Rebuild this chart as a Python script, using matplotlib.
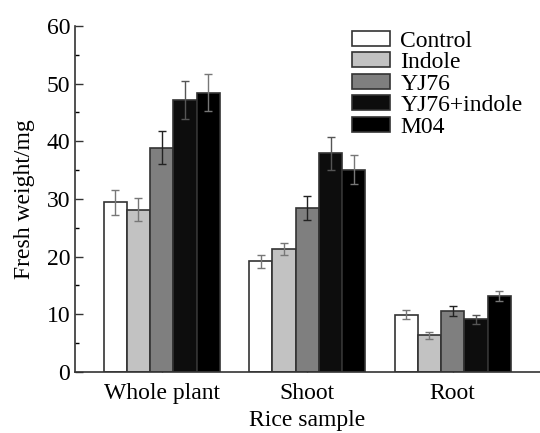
import matplotlib
matplotlib.use("Agg")
import matplotlib.pyplot as plt
import numpy as np
from matplotlib.ticker import MultipleLocator

plt.rcParams['font.family'] = ['Liberation Serif', 'DejaVu Serif']

categories = ["Whole plant", "Shoot", "Root"]
series = ["Control", "Indole", "YJ76", "YJ76+indole", "M04"]
values = {
    "Control":     [29.4, 19.2, 9.9],
    "Indole":      [28.1, 21.3, 6.4],
    "YJ76":        [38.9, 28.4, 10.6],
    "YJ76+indole": [47.1, 37.9, 9.1],
    "M04":         [48.4, 35.1, 13.2],
}
errors = {
    "Control":     [2.1, 1.1, 0.8],
    "Indole":      [2.0, 1.0, 0.6],
    "YJ76":        [2.8, 2.1, 0.9],
    "YJ76+indole": [3.3, 2.9, 0.8],
    "M04":         [3.2, 2.5, 0.9],
}
colors = ["#ffffff", "#c2c2c2", "#7f7f7f", "#0d0d0d", "#000000"]
err_colors = ["#777777", "#777777", "#222222", "#555555", "#777777"]

fig = plt.figure(figsize=(5.4, 4.33), dpi=100)
ax = fig.add_axes([0.139, 0.141, 0.861, 0.799])

x = np.arange(len(categories))
w = 0.16
for i, s in enumerate(series):
    pos = x + (i - 2) * w
    ax.bar(pos, values[s], width=w, color=colors[i], edgecolor="#333333",
           linewidth=1.2, label=s, zorder=2)
    ax.errorbar(pos, values[s], yerr=errors[s], fmt="none", ecolor=err_colors[i],
                elinewidth=1.0, capsize=3, capthick=1.0, zorder=3)

ax.set_xlim(-0.596, 2.6)
ax.set_ylim(0, 60)
ax.yaxis.set_major_locator(MultipleLocator(10))
ax.yaxis.set_minor_locator(MultipleLocator(5))
ax.set_xticks(x)
ax.set_xticklabels(categories)
ax.tick_params(axis="both", direction="in", labelsize=17, color="#333333")
ax.tick_params(axis="y", which="major", length=6, width=1)
ax.tick_params(axis="y", which="minor", length=3, width=1, direction="in")
ax.tick_params(axis="x", length=4, width=1, pad=8)
for sp in ["top", "right"]:
    ax.spines[sp].set_visible(False)
for sp in ["left", "bottom"]:
    ax.spines[sp].set_color("#333333")
    ax.spines[sp].set_linewidth(1.2)

ax.set_ylabel("Fresh weight/mg", fontsize=17, labelpad=8)
ax.set_xlabel("Rice sample", fontsize=17, labelpad=4)

leg = ax.legend(loc="upper left", bbox_to_anchor=(0.585, 1.0), frameon=False,
                fontsize=17, handlelength=1.6, handleheight=0.6,
                handletextpad=0.45, labelspacing=0.02, borderaxespad=0.0,
                borderpad=0.2)

fig.savefig("out.png", dpi=100)
